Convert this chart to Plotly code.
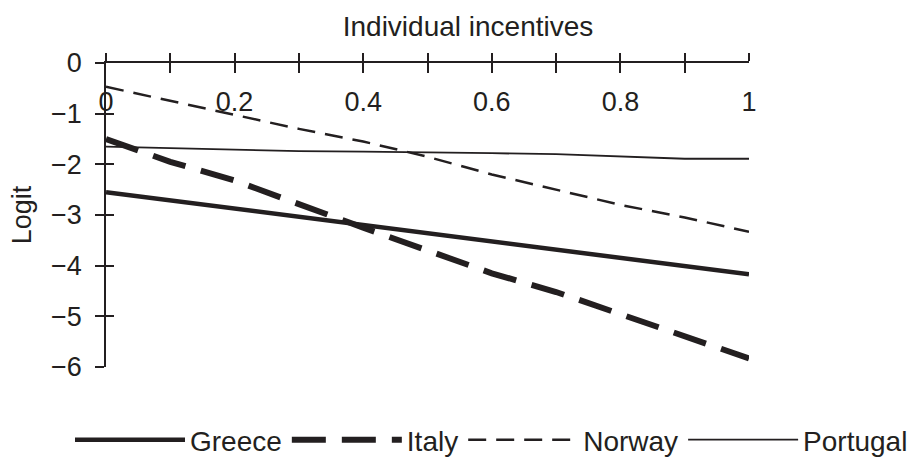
import plotly.graph_objects as go

# Individual incentive level (share)
incentive = [0.0, 0.1, 0.2, 0.3, 0.4, 0.5, 0.6, 0.7, 0.8, 0.9, 1.0]

# Predicted logit by country
greece = [-2.55, -2.71, -2.87, -3.03, -3.20, -3.36, -3.52, -3.68, -3.84, -4.00, -4.17]
italy = [-1.50, -1.95, -2.32, -2.80, -3.25, -3.70, -4.15, -4.52, -4.95, -5.40, -5.83]
norway = [-0.47, -0.75, -1.03, -1.30, -1.55, -1.85, -2.20, -2.50, -2.80, -3.05, -3.33]
portugal = [-1.65, -1.68, -1.71, -1.74, -1.75, -1.76, -1.78, -1.80, -1.84, -1.89, -1.89]

x_ticks = [0.0, 0.1, 0.2, 0.3, 0.4, 0.5, 0.6, 0.7, 0.8, 0.9, 1.0]
x_label_vals = [0.0, 0.2, 0.4, 0.6, 0.8, 1.0]
x_label_text = ["0", "0.2", "0.4", "0.6", "0.8", "1"]
y_ticks = [-6, -5, -4, -3, -2, -1, 0]

INK = "#231f20"
FONT = "Liberation Sans, Arial, sans-serif"
SIZE = 27

W, H = 910, 458
ML, MT, MB = 106, 63, 91
PLOT_W = 643                  # width of the drawn axes
AREA_W = W - ML               # plotting area runs to the right edge
X_DOMAIN = [0, PLOT_W / AREA_W]
PLOT_H = H - MT - MB

fig = go.Figure()
fig.add_trace(go.Scatter(x=incentive, y=greece, name="Greece", mode="lines",
                         line=dict(color=INK, width=4.5)))
fig.add_trace(go.Scatter(x=incentive, y=italy, name="Italy", mode="lines",
                         xaxis="x3", yaxis="y",
                         line=dict(color=INK, width=6, dash="34px,16px")))
fig.add_trace(go.Scatter(x=incentive, y=norway, name="Norway", mode="lines",
                         xaxis="x", yaxis="y2",
                         line=dict(color=INK, width=2.5, dash="18px,10px")))
fig.add_trace(go.Scatter(x=incentive, y=portugal, name="Portugal", mode="lines",
                         xaxis="x2", yaxis="y",
                         line=dict(color=INK, width=1.8)))

common = dict(showgrid=False, zeroline=False)

fig.update_layout(
    width=W, height=H,
    margin=dict(l=ML, r=0, t=MT, b=MB, autoexpand=False),
    paper_bgcolor="white", plot_bgcolor="rgba(0,0,0,0)",
    font=dict(family=FONT, size=SIZE, color=INK),
    title=dict(text="Individual incentives", x=468 / W, xanchor="center",
               y=1 - 26 / H, yanchor="middle",
               font=dict(family=FONT, size=28, color=INK)),
    # axis line along logit = 0 with ticks crossing it
    xaxis=dict(range=[0, 1], domain=X_DOMAIN, side="top", anchor="y",
               showline=True, linecolor=INK, linewidth=1.5, ticks="outside",
               ticklen=8, tickwidth=1.5, tickcolor=INK, tickvals=x_ticks,
               showticklabels=False, **common),
    xaxis2=dict(overlaying="x", matches="x", side="top", anchor="y",
                showline=False, ticks="inside", ticklen=10, tickwidth=1.5,
                tickcolor=INK, tickvals=x_ticks, showticklabels=False,
                **common),
    # tick labels hanging just under the top axis line
    xaxis3=dict(overlaying="x", matches="x", side="bottom", anchor="free",
                position=1, showline=False, ticks="",
                tickvals=x_label_vals, ticktext=x_label_text,
                ticklabelstandoff=20,
                tickfont=dict(family=FONT, size=SIZE, color=INK), **common),
    yaxis=dict(range=[-6, 0], anchor="x", showline=True, linecolor=INK,
               linewidth=1.5, ticks="outside", ticklen=9, tickwidth=1.5,
               tickcolor=INK, tickvals=y_ticks,
               tickfont=dict(family=FONT, size=SIZE, color=INK),
               ticklabelstandoff=8,
               title=dict(text="Logit", standoff=12,
                          font=dict(family=FONT, size=SIZE, color=INK)),
               **common),
    yaxis2=dict(overlaying="y", matches="y", anchor="x", side="left",
                showline=False, ticks="inside", ticklen=8, tickwidth=1.5,
                tickcolor=INK, tickvals=y_ticks, showticklabels=False,
                **common),
    legend=dict(orientation="h", x=(70 - ML) / AREA_W, xanchor="left",
                y=(H - MB - 440) / PLOT_H, yanchor="middle",
                itemwidth=110, traceorder="normal",
                font=dict(family=FONT, size=28, color=INK),
                bgcolor="rgba(0,0,0,0)"),
)

fig.write_html("out.html")
